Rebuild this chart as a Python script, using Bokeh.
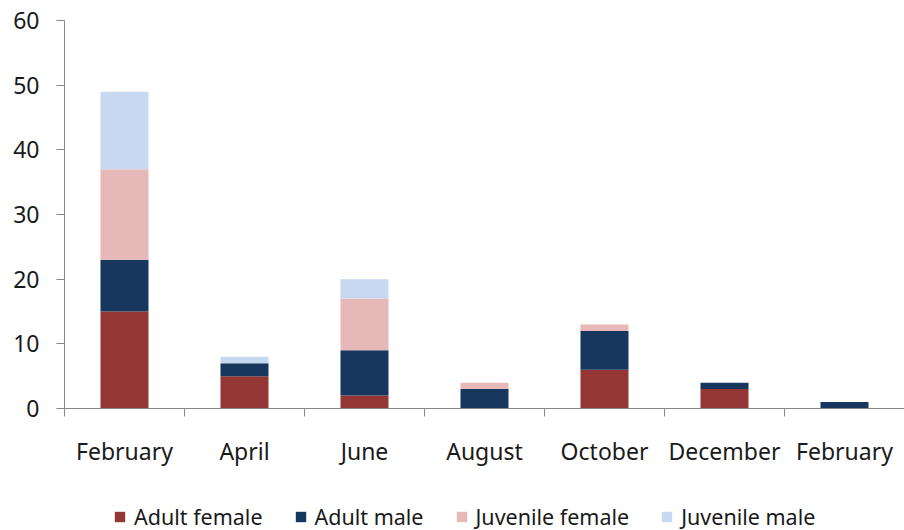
from bokeh.plotting import figure
from bokeh.models import ColumnDataSource, FixedTicker, Range1d, Legend, LegendItem
from bokeh.layouts import column
from bokeh.embed import file_html
from bokeh.resources import INLINE

months = ["February", "April", "June", "August", "October", "December", "February"]
adult_female = [15, 5, 2, 0, 6, 3, 0]
adult_male = [8, 2, 7, 3, 6, 1, 1]
juvenile_female = [14, 0, 8, 1, 1, 0, 0]
juvenile_male = [12, 1, 3, 0, 0, 0, 0]

series = ["Adult female", "Adult male", "Juvenile female", "Juvenile male"]
colors = ["#943634", "#17375E", "#E6B9B8", "#C6D9F1"]

xs = list(range(len(months)))
src = ColumnDataSource(dict(x=xs, s0=adult_female, s1=adult_male,
                            s2=juvenile_female, s3=juvenile_male))

W = 904
p = figure(width=W, height=470, output_backend="svg", toolbar_location=None,
           x_range=Range1d(-0.5, len(months) - 0.5), y_range=Range1d(0, 60),
           min_border_left=64, min_border_right=0, min_border_top=20,
           min_border_bottom=62)
p.outline_line_color = None
p.grid.visible = False

rs = p.vbar_stack(["s0", "s1", "s2", "s3"], x="x", width=0.4, color=colors,
                  line_color=None, source=src)

font = "Noto Sans"
axis_color = "#878787"
text_color = "#1a1a1a"

p.yaxis.ticker = FixedTicker(ticks=[0, 10, 20, 30, 40, 50, 60])
p.yaxis.axis_line_color = axis_color
p.yaxis.major_tick_line_color = axis_color
p.yaxis.major_tick_out = 8
p.yaxis.major_tick_in = 0
p.yaxis.minor_tick_line_color = None
p.yaxis.major_label_text_font = font
p.yaxis.major_label_text_font_size = "23px"
p.yaxis.major_label_text_color = text_color
p.yaxis.major_label_standoff = 17

p.xaxis.ticker = FixedTicker(ticks=xs, minor_ticks=[i - 0.5 for i in range(len(months) + 1)])
p.xaxis.major_label_overrides = {i: m for i, m in enumerate(months)}
p.xaxis.axis_line_color = axis_color
p.xaxis.major_tick_line_color = None
p.xaxis.major_tick_out = 0
p.xaxis.major_tick_in = 0
p.xaxis.minor_tick_line_color = axis_color
p.xaxis.minor_tick_out = 8
p.xaxis.minor_tick_in = 0
p.xaxis.major_label_text_font = font
p.xaxis.major_label_text_font_size = "23px"
p.xaxis.major_label_text_color = text_color
p.xaxis.major_label_standoff = 18

# legend in a strip below the chart (its frame is aligned with the chart's frame)
lf = figure(width=W, height=60, output_backend="svg", toolbar_location=None,
            x_range=Range1d(0, 1), y_range=Range1d(0, 1),
            min_border=0, min_border_left=64, min_border_right=0,
            min_border_top=0, min_border_bottom=0)
lf.axis.visible = False
lf.grid.visible = False
lf.outline_line_color = None
offscreen = ColumnDataSource(dict(x=[10], top=[1]))
lrs = [lf.vbar(x="x", top="top", width=0.1, fill_color=c, line_color=None, source=offscreen)
       for c in colors]

legend = Legend(items=[LegendItem(label=s, renderers=[r]) for s, r in zip(series, lrs)],
                orientation="horizontal", location=(49, -1),
                label_text_font=font, label_text_font_size="21.5px",
                label_text_color=text_color, glyph_width=13, glyph_height=13,
                spacing=31, label_standoff=8, border_line_color=None,
                background_fill_alpha=0, margin=0, padding=0)
lf.add_layout(legend, "center")

layout = column(p, lf, spacing=0)
open("out.html", "w").write(file_html(layout, INLINE))
